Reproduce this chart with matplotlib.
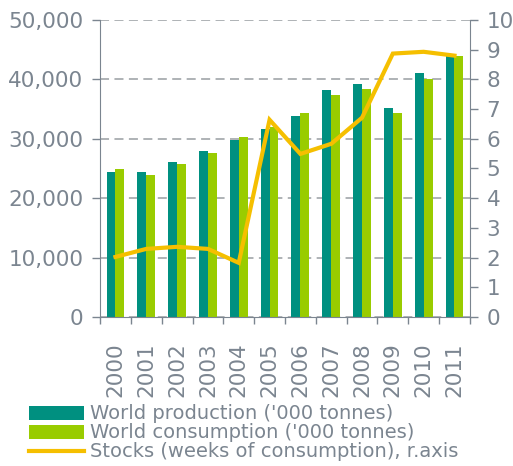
import matplotlib
matplotlib.use("Agg")
import matplotlib.pyplot as plt
import numpy as np
from matplotlib.patches import Patch
from matplotlib.lines import Line2D

years = ["2000", "2001", "2002", "2003", "2004", "2005", "2006", "2007", "2008", "2009", "2010", "2011"]
production = [24400, 24400, 26100, 27900, 29800, 31600, 33800, 38200, 39200, 35200, 41100, 44100]
consumption = [24900, 23900, 25700, 27600, 30300, 32000, 34300, 37400, 38400, 34300, 40000, 43900]
stocks = [2.02, 2.29, 2.36, 2.29, 1.82, 6.64, 5.49, 5.83, 6.71, 8.87, 8.93, 8.80]

c_prod = "#009080"
c_cons = "#99cc00"
c_stock = "#f5bf00"
c_text = "#7b8590"
c_axis = "#7b8590"
c_grid = "#a8acb0"

plt.rcParams['font.family'] = ['DejaVu Sans']
fs = 15.5

fig = plt.figure(figsize=(5.13, 4.66), dpi=100)
ax = fig.add_axes([0.195, 0.320, 0.721, 0.637])
x = np.arange(len(years))
w = 0.29
ax.bar(x - w/2, production, w, color=c_prod, zorder=2)
ax.bar(x + w/2, consumption, w, color=c_cons, zorder=2)
ax.set_xlim(-0.5, len(years) - 0.5)
ax.set_ylim(0, 50000)
ax.set_yticks(np.arange(0, 50001, 10000))
ax.set_yticklabels([f"{v:,}" for v in range(0, 50001, 10000)])
ax.yaxis.grid(True, color=c_grid, linestyle=(0, (5, 3)), linewidth=1.3, zorder=0)
ax.set_axisbelow(True)
ax.set_xticks(x)
ax.set_xticklabels(years, rotation=90)
ax.set_xticks(np.arange(-0.5, len(years), 1), minor=True)
ax.tick_params(axis='x', which='major', length=0, labelsize=fs, labelcolor=c_text, pad=18)
ax.tick_params(axis='x', which='minor', length=5, color=c_axis, width=1)
ax.tick_params(axis='y', length=6, color=c_axis, labelsize=fs, labelcolor=c_text, width=1, pad=6)
for s in ['top', 'right']:
    ax.spines[s].set_visible(False)
for s in ['left', 'bottom']:
    ax.spines[s].set_color(c_axis)

ax2 = ax.twinx()
ax2.plot(x, stocks, color=c_stock, linewidth=3, zorder=3, solid_joinstyle='miter')
ax2.set_ylim(0, 10)
ax2.set_yticks(range(0, 11))
ax2.tick_params(axis='y', length=6, color=c_axis, labelsize=fs, labelcolor=c_text, width=1, pad=6)
for s in ['top', 'left', 'bottom']:
    ax2.spines[s].set_visible(False)
ax2.spines['right'].set_color(c_axis)

handles = [Patch(facecolor=c_prod, edgecolor='none'),
           Patch(facecolor=c_cons, edgecolor='none'),
           Line2D([0], [0], color=c_stock, linewidth=3)]
labels = ["World production ('000 tonnes)", "World consumption ('000 tonnes)",
          "Stocks (weeks of consumption), r.axis"]
leg = fig.legend(handles, labels, loc='upper left', bbox_to_anchor=(0.057, 0.132),
                 frameon=False, fontsize=14, handlelength=2.8, handleheight=0.75,
                 labelspacing=0.0, handletextpad=0.35, borderpad=0, borderaxespad=0)
for t in leg.get_texts():
    t.set_color(c_text)

fig.savefig("out.png", dpi=100)
